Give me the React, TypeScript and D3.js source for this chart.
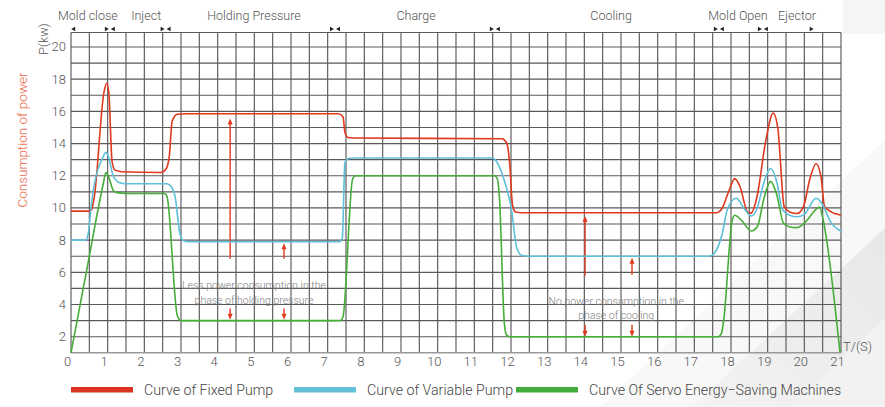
import React from "react";
import * as d3 from "d3";

type Pt = [number, number];

// ---- data ----
const xTicks = d3.range(0, 22);
const yTickLabels = [2, 4, 6, 8, 10, 12, 14, 16, 18, 20];

const phaseNames = ["Mold close", "Inject", "Holding Pressure", "Charge", "Cooling", "Mold Open", "Ejector"];
const phaseLabelT = [0.46, 2.05, 4.99, 9.41, 14.73, 18.19, 19.8];
const phaseBounds = [1.06, 2.58, 7.2, 11.56, 17.67, 18.87];
const phaseStartT = 0.06;
const phaseEndT = 20.2;

const fixedPump: Pt[] = [
  [0, 9.8], [0.5, 9.8], [0.56, 9.9], [0.63, 10.6], [0.9, 17.2], [0.97, 17.75], [1.03, 17.2],
  [1.12, 12.9], [1.2, 12.35], [1.4, 12.25], [2.45, 12.2], [2.6, 12.45], [2.68, 13.2],
  [2.76, 15.4], [2.9, 15.82], [3.1, 15.85], [7.3, 15.85], [7.42, 15.65], [7.47, 14.7],
  [7.55, 14.38], [7.7, 14.35], [11.75, 14.3], [11.88, 14.05], [11.97, 12.6], [12.04, 10.2],
  [12.12, 9.75], [12.3, 9.7], [17.6, 9.7], [17.75, 9.95], [17.95, 11.1], [18.1, 11.82],
  [18.25, 11.3], [18.45, 9.75], [18.55, 9.68], [18.7, 10.6], [18.95, 14.2], [19.15, 15.9],
  [19.28, 14.9], [19.45, 10.1], [19.6, 9.75], [19.8, 9.65], [19.98, 10.1], [20.15, 11.8],
  [20.32, 12.75], [20.45, 12.0], [20.55, 10.1], [20.7, 9.8], [21, 9.55],
];

const variablePump: Pt[] = [
  [0, 8], [0.4, 8], [0.47, 8.4], [0.56, 10.3], [0.88, 13.2], [0.95, 13.45], [1.02, 13.2],
  [1.15, 12.0], [1.3, 11.6], [1.5, 11.5], [2.62, 11.5], [2.74, 11.3], [2.84, 10.7],
  [2.97, 8.4], [3.08, 7.95], [3.25, 7.9], [7.33, 7.9], [7.4, 8.15], [7.47, 12.8],
  [7.55, 13.05], [7.7, 13.1], [11.5, 13.1], [11.6, 12.9], [11.87, 11.3], [12.0, 10.1],
  [12.16, 7.5], [12.3, 7.05], [12.5, 7.0], [17.4, 7.0], [17.55, 7.2], [17.75, 8.3],
  [17.9, 9.9], [18.14, 10.6], [18.35, 10.0], [18.55, 9.5], [18.7, 9.9], [18.9, 11.6],
  [19.08, 12.45], [19.25, 11.6], [19.4, 9.9], [19.6, 9.55], [19.8, 9.45], [20.0, 9.6],
  [20.32, 10.6], [20.5, 10.2], [20.7, 9.2], [21, 8.55],
];

const servoMachine: Pt[] = [
  [0, 1], [0.45, 6.4], [0.88, 11.5], [0.95, 12.2], [1.03, 11.9], [1.15, 11.1], [1.25, 10.95],
  [1.5, 10.9], [2.55, 10.9], [2.62, 10.7], [2.9, 3.3], [3.0, 3.0], [7.35, 3.0], [7.42, 3.25],
  [7.68, 11.8], [7.76, 12.0], [11.55, 12.0], [11.63, 11.8], [11.68, 10.8], [11.82, 2.8],
  [11.88, 2.1], [11.97, 2.0], [17.65, 2.0], [17.74, 2.2], [17.8, 3.0], [18.03, 9.2],
  [18.1, 9.55], [18.3, 9.2], [18.55, 8.57], [18.72, 8.85], [18.9, 10.6], [19.08, 11.65],
  [19.25, 10.8], [19.43, 9.05], [19.6, 8.82], [19.8, 8.78], [20.06, 9.2], [20.25, 9.75],
  [20.42, 10.06], [20.5, 9.4], [20.97, 1.05],
];

// arrows: [t, from, to]
const upArrows: [number, number, number][] = [
  [4.34, 6.85, 15.55], [5.81, 6.85, 7.8], [14.02, 5.8, 9.5], [15.3, 5.85, 6.9],
];
const downArrows: [number, number, number][] = [
  [4.34, 3.75, 3.05], [5.81, 3.75, 3.05], [14.02, 2.75, 2.0], [15.3, 2.75, 2.0],
];

const notes = [
  { t: 4.99, v: 4.95, lines: ["Less power consumption in the", "phase of holding pressure"] },
  { t: 14.87, v: 4.0, lines: ["No power consumption in the", "phase of cooling"] },
];

const legendNames = ["Curve of Fixed Pump", "Curve of Variable Pump", "Curve Of Servo Energy\u2212Saving Machines"];

const RED = "#e0391f";
const BLUE = "#5ebfd8";
const GREEN = "#46ad39";
const FONT = "Roboto, 'Open Sans', 'Noto Sans', sans-serif";

export default function App() {
  const x = d3.scaleLinear().domain([0, 21]).range([71, 841]);
  const y = d3.scaleLinear().domain([1, 20.9]).range([352.8, 32.5]);
  const line = d3
    .line<Pt>()
    .x((d) => x(d[0]))
    .y((d) => y(d[1]))
    .curve(d3.curveMonotoneX);

  const vLines = d3.range(0, 21.01, 0.5);
  const hLines = d3.range(2, 21, 1);
  const series = [
    { data: fixedPump, color: RED },
    { data: variablePump, color: BLUE },
    { data: servoMachine, color: GREEN },
  ];
  const legendX = [71, 294, 516];
  const legendColors = ["#d9341f", "#62c0d9", "#40ad3a"];

  const tri = (cx: number, cy: number, dir: 1 | -1) =>
    `${cx - 2 * dir},${cy - 2.2} ${cx + 2 * dir},${cy} ${cx - 2 * dir},${cy + 2.2}`;

  return (
    <svg
      width={885}
      height={407}
      viewBox="0 0 885 407"
      style={{ position: "absolute", left: 0, top: 0, display: "block", background: "#fff" }}
      fontFamily={FONT}
    >
      <defs>
        <linearGradient id="bandA" x1="0" y1="1" x2="1" y2="0">
          <stop offset="0" stopColor="#f3f3f3" />
          <stop offset="1" stopColor="#e8e8e8" />
        </linearGradient>
      </defs>
      {/* background shading */}
      <polygon points="600,407 885,140 885,407" fill="#f8f8f8" />
      <polygon points="692,407 885,228 885,407" fill="url(#bandA)" />
      <polygon points="790,407 885,318 885,407" fill="#f2f2f2" />
      <polygon points="843,0 885,0 885,34 843,34" fill="#f5f5f5" />

      {/* grid */}
      {hLines.map((v) => (
        <line key={"h" + v} x1={x(0)} x2={x(21)} y1={y(v)} y2={y(v)} stroke="#595959" strokeWidth={1.15} />
      ))}
      <line x1={x(0)} x2={x(21)} y1={y(20.9)} y2={y(20.9)} stroke="#595959" strokeWidth={1.15} />
      {vLines.map((t) => (
        <line key={"v" + t} x1={x(t)} x2={x(t)} y1={y(20.9)} y2={y(1)} stroke="#595959" strokeWidth={1.15} />
      ))}
      <line x1={x(0)} x2={x(21)} y1={y(1)} y2={y(1)} stroke="#999" strokeWidth={1.5} />

      {/* y ticks */}
      {yTickLabels.map((v) => (
        <text key={"yl" + v} x={66} y={y(v) + 4.5} textAnchor="end" fontSize={13} fill="#555" fontWeight={300}>
          {v}
        </text>
      ))}
      {/* x ticks */}
      {xTicks.map((t) => (
        <text key={"xl" + t} x={x(t) - 3.5} y={366} textAnchor="middle" fontSize={13} fill="#555" fontWeight={300}>
          {t}
        </text>
      ))}
      <text x={843} y={351} fontSize={13} fill="#555" fontWeight={300}>
        T/(S)
      </text>
      <text transform="translate(48,39) rotate(-90)" textAnchor="middle" fontSize={12.5} fill="#555" fontWeight={300}>
        P(kw)
      </text>
      <text transform="translate(27,140) rotate(-90)" textAnchor="middle" fontSize={13.5} fill="#ee6747" fontWeight={300}>
        Consumption of power
      </text>

      {/* phases */}
      {phaseNames.map((n, i) => (
        <text key={n} x={x(phaseLabelT[i])} y={20} textAnchor="middle" fontSize={12.5} fill="#555" fontWeight={300}>
          {n}
        </text>
      ))}
      <polygon points={tri(x(phaseStartT), 29, -1)} fill="#222" />
      {phaseBounds.map((b) => (
        <g key={"b" + b}>
          <polygon points={tri(x(b) - 3, 29, 1)} fill="#222" />
          <polygon points={tri(x(b) + 3, 29, -1)} fill="#222" />
        </g>
      ))}
      <polygon points={tri(x(phaseEndT), 29, 1)} fill="#222" />

      {/* annotations */}
      {notes.map((n, i) => (
        <text key={"n" + i} textAnchor="middle" fontSize={10.5} fill="#808080" fontWeight={300}>
          {n.lines.map((l, j) => (
            <tspan key={j} x={x(n.t)} y={y(n.v) + j * 14.5}>
              {l}
            </tspan>
          ))}
        </text>
      ))}
      {upArrows.map(([t, a, b], i) => (
        <g key={"ua" + i}>
          <line x1={x(t)} x2={x(t)} y1={y(a)} y2={y(b) + 4} stroke={RED} strokeWidth={1.4} />
          <polygon points={`${x(t) - 2.5},${y(b) + 6} ${x(t)},${y(b)} ${x(t) + 2.5},${y(b) + 6}`} fill={RED} />
        </g>
      ))}
      {downArrows.map(([t, a, b], i) => (
        <g key={"da" + i}>
          <line x1={x(t)} x2={x(t)} y1={y(a)} y2={y(b) - 4} stroke={RED} strokeWidth={1.4} />
          <polygon points={`${x(t) - 2.5},${y(b) - 6} ${x(t)},${y(b)} ${x(t) + 2.5},${y(b) - 6}`} fill={RED} />
        </g>
      ))}

      {/* curves */}
      {series.map((s, i) => (
        <path key={"s" + i} d={line(s.data) || ""} fill="none" stroke={s.color} strokeWidth={1.6} strokeLinejoin="round" />
      ))}

      {/* legend */}
      {legendNames.map((n, i) => (
        <g key={"lg" + i}>
          <rect x={legendX[i]} y={387} width={62} height={5.5} fill={legendColors[i]} />
          <text x={legendX[i] + 73} y={394.5} fontSize={14.2} fill="#444" fontWeight={300}>
            {n}
          </text>
        </g>
      ))}
    </svg>
  );
}
